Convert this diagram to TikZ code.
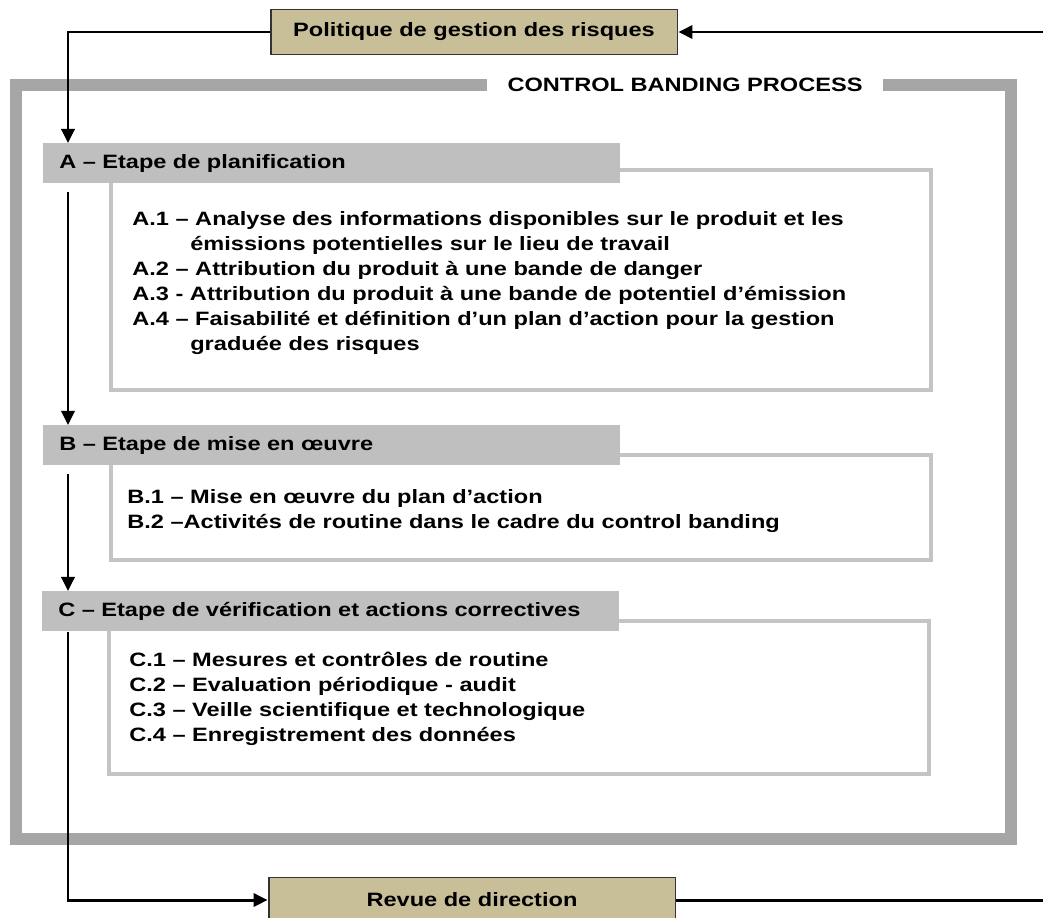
\documentclass[tikz,border=0pt]{standalone}
\usepackage{fontspec}
\newfontfamily\diagfont{Liberation Sans}[FakeStretch=1.22]
\usepackage{tikz}
\usetikzlibrary{positioning}
\usetikzlibrary{arrows.meta}
\usepackage{xcolor}
\definecolor{doctan}{RGB}{200,191,152}
\definecolor{framegray}{RGB}{166,166,166}
\definecolor{headgray}{RGB}{191,191,191}
\definecolor{panelgray}{RGB}{196,196,196}

\begin{document}
\begin{tikzpicture}[x=0.02cm, y=-0.02cm, font=\diagfont\bfseries\fontsize{11}{14.2}\selectfont,
doc/.style = {draw=black!80, line width=1.1pt, fill=doctan, minimum width=8.14cm, minimum height=0.9cm},
head/.style = {fill=headgray, anchor=north west, minimum width=11.54cm, minimum height=0.8cm, text width=10.9cm, inner xsep=0.32cm, align=left},
panel/.style = {draw=panelgray, line width=2.2pt, anchor=north west, minimum width=16.4cm},
item/.style = {anchor=west, inner sep=0pt, align=left},
flow/.style = {line width=1.7pt, ->, >={Triangle[length=8pt,width=7.5pt]}}]
\useasboundingbox (0,0) rectangle (1043,917);
\draw[framegray, line width=6.8pt] (16,85) rectangle (1011,839);
\node[fill=white, minimum width=7.92cm, minimum height=0.4cm] (title) at (685,85) {CONTROL BANDING PROCESS};
\node[doc] (pol) at (474,32) {Politique de gestion des risques};
\node[doc] (rev) at (472,900) {Revue de direction};
\node[panel, minimum height=4.4cm] (bA) at (109,168) {};
\node[panel, minimum height=2.1cm] (bB) at (109,453) {};
\node[panel, minimum height=3.06cm] (bC) at (107,619) {};
\node[head] (hA) at (43,143) {A – Etape de planification};
\node[head] (hB) at (43,425) {B – Etape de mise en œuvre};
\node[head] (hC) at (42,591) {C – Etape de vérification et actions correctives};
\node[item] (tA) at (132,283) {A.1 – Analyse des informations disponibles sur le produit et les\\
\hspace*{33pt}émissions potentielles sur le lieu de travail\\
A.2 – Attribution du produit à une bande de danger\\
A.3 - Attribution du produit à une bande de potentiel d’émission\\
A.4 – Faisabilité et définition d’un plan d’action pour la gestion\\
\hspace*{33pt}graduée des risques};
\node[item] (tB) at (127,511) {B.1 – Mise en œuvre du plan d’action\\
B.2 –Activités de routine dans le cadre du control banding};
\node[item] (tC) at (129,699) {C.1 – Mesures et contrôles de routine\\
C.2 – Evaluation périodique - audit\\
C.3 – Veille scientifique et technologique\\
C.4 – Enregistrement des données};
\coordinate (spine) at (68,0);
\coordinate (inR) at (1043,32);
\coordinate (outR) at (1043,900);
\draw[flow] (inR) -- (pol.east);
\draw[flow] (pol.west) -| (hA.north -| spine);
\draw[flow, shorten <=5pt] (hA.south -| spine) -- (hB.north -| spine);
\draw[flow, shorten <=5pt] (hB.south -| spine) -- (hC.north -| spine);
\draw[flow] (hC.south -| spine) |- (rev.west);
\draw[line width=1.7pt] (rev.east) -- (outR);
\end{tikzpicture}
\end{document}
